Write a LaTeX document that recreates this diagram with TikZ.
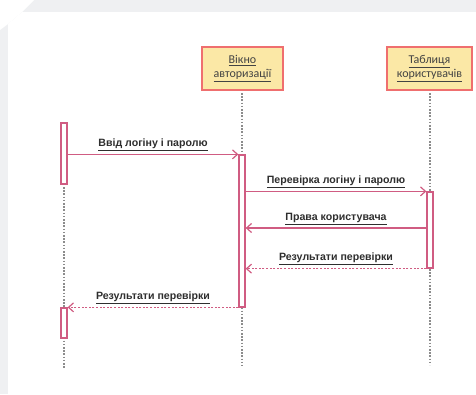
\documentclass[tikz,border=0pt]{standalone}
\usepackage{fontspec}
\setmainfont{Liberation Sans}
\newfontfamily\boxfont{Carlito}
\usetikzlibrary{arrows.meta}
\definecolor{pagegray}{HTML}{EFF0F2}
\definecolor{msgpink}{RGB}{208,92,130}
\definecolor{boxedge}{HTML}{EF6F6F}
\definecolor{boxfill}{HTML}{FBE8A6}
\definecolor{lifegray}{HTML}{8C8C8C}
\definecolor{txt}{HTML}{2E2E2E}
\tikzset{
  objbox/.style={draw=boxedge, fill=boxfill, line width=1.3pt, inner sep=0pt,
    minimum height=43pt, align=center, font=\boxfont\fontsize{12}{13.5}\selectfont, text=txt!90},
  actbox/.style={draw=msgpink, fill=white, line width=1.3pt, minimum width=6pt, inner sep=0pt},
  lifeline/.style={draw=lifegray, line width=1.2pt, dash pattern=on 1.6pt off 1.6pt},
  msg/.style={draw=msgpink, line width=1.2pt, -{Straight Barb[length=5pt,width=9pt,line width=1.2pt]}},
  reply/.style={msg, dash pattern=on 2pt off 1.6pt},
  msglabel/.style={midway, above=3pt, font=\bfseries\fontsize{10.6}{12}\selectfont, text=txt, inner sep=0pt}
}
\begin{document}
\begin{tikzpicture}[x=1pt,y=-1pt]
  % page background
  \fill[pagegray] (0,0) rectangle (476,394);
  \fill[white] (8,24) -- (22,12) -- (476,12) -- (476,394) -- (8,394) -- cycle;
  \fill[white] (0,0) -- (34,0) -- (22,12) -- (8,24) -- (0,30) -- cycle;
  \useasboundingbox (0,0) rectangle (476,394);

  % objects
  \node[objbox, minimum width=81pt] (win) at (242.5,68.5) {\underline{Вікно}\\\underline{авторизації}};
  \node[objbox, minimum width=85pt] (tab) at (429.5,68.5) {\underline{Таблиця}\\\underline{користувачів}};

  % lifeline ends
  \coordinate (userTop) at (64,123);
  \coordinate (userEnd) at (64,368);
  \coordinate (winEnd) at (242,366);
  \coordinate (tabEnd) at (430,365);

  % lifelines
  \draw[lifeline] (242,93) -- (winEnd);
  \draw[lifeline] (430,93) -- (tabEnd);
  \draw[lifeline] (userTop) -- (userEnd);

  % activations
  \node[actbox, minimum height=61pt] (u1) at (64,153.5) {};
  \node[actbox, minimum height=30pt] (u2) at (64,323) {};
  \node[actbox, minimum height=152pt] (w1) at (242,231) {};
  \node[actbox, minimum height=76pt] (t1) at (430,230) {};

  % messages
  \coordinate (m3) at (0,228);
  \draw[msg] (u1.east |- w1.north west) -- node[msglabel] {\underline{Ввід логіну і паролю}} (w1.north west);
  \draw[msg] (w1.east |- t1.north west) -- node[msglabel] {\underline{Перевірка логіну і паролю}} (t1.north west);
  \draw[msg] (t1.west |- m3) -- node[msglabel] {\underline{Права користувача}} (w1.east |- m3);
  \draw[reply] (t1.south west) -- node[msglabel] {\underline{Результати перевірки}} (w1.east |- t1.south west);
  \draw[reply] (w1.west |- u2.north east) -- node[msglabel] {\underline{Результати перевірки}} (u2.north east);
\end{tikzpicture}
\end{document}
